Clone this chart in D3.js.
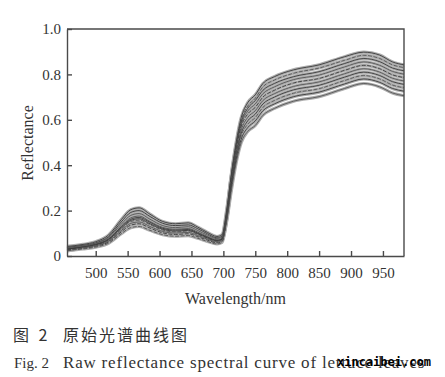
<!DOCTYPE html>
<html>
<head>
<meta charset="utf-8">
<script src="https://cdn.jsdelivr.net/npm/d3@7"></script>
<style>
  body { margin: 0; background: #fff; }
  svg { display: block; }
  .axis path, .axis line { stroke: #4a4a4a; stroke-width: 1.4; }
  .axis text { font-family: "Liberation Serif", "Times New Roman", serif; font-size: 15px; fill: #333; }
</style>
</head>
<body>
<svg width="445" height="377"></svg>
<script>
// wavelengths (nm) sampled along the curves
var wavelengths = [455, 480, 500, 520, 540, 555, 568, 585, 605, 625, 645, 660, 675, 690, 698,
                   705, 712, 720, 728, 738, 750, 762, 780, 810, 850, 890, 920, 945, 965, 983];

// reflectance of individual leaf samples (high NIR to low NIR)
var sampleA = [.038, .047, .058, .085, .150, .192, .200, .174, .144, .134, .137, .120, .098, .080, .088,
               .19, .35, .50, .61, .675, .71, .76, .79, .82, .842, .878, .898, .885, .855, .842];
var sampleB = [.030, .038, .048, .068, .118, .152, .158, .138, .114, .106, .110, .095, .078, .065, .072,
               .18, .34, .49, .60, .66, .695, .745, .775, .805, .828, .862, .884, .870, .842, .830];
var sampleC = [.042, .051, .063, .092, .160, .204, .212, .184, .152, .142, .146, .127, .104, .086, .094,
               .20, .345, .485, .59, .65, .685, .73, .76, .79, .812, .848, .870, .856, .828, .816];
var sampleD = [.034, .042, .053, .076, .131, .168, .176, .152, .126, .118, .121, .105, .086, .071, .078,
               .175, .33, .475, .58, .638, .67, .715, .745, .777, .797, .833, .855, .840, .813, .801];
var sampleE = [.027, .034, .043, .061, .106, .136, .142, .123, .102, .095, .098, .085, .070, .058, .066,
               .17, .325, .468, .57, .625, .655, .70, .73, .762, .782, .818, .840, .825, .798, .786];
var sampleF = [.036, .045, .056, .081, .140, .179, .187, .162, .134, .125, .129, .112, .092, .076, .083,
               .17, .315, .455, .555, .61, .64, .685, .715, .747, .767, .803, .825, .810, .783, .771];
var sampleG = [.031, .039, .049, .071, .123, .157, .164, .142, .118, .110, .113, .098, .080, .067, .074,
               .165, .31, .445, .54, .595, .625, .67, .70, .732, .752, .788, .810, .795, .768, .756];
var sampleH = [.024, .031, .039, .056, .098, .125, .130, .113, .094, .087, .090, .078, .064, .053, .060,
               .155, .30, .435, .53, .58, .61, .655, .685, .717, .737, .773, .795, .780, .753, .741];
var sampleI = [.030, .040, .051, .074, .128, .162, .170, .148, .122, .114, .117, .101, .083, .069, .076,
               .16, .295, .425, .515, .565, .595, .64, .67, .702, .722, .758, .780, .765, .738, .726];
var sampleJ = [.022, .036, .045, .065, .112, .144, .150, .130, .108, .101, .104, .090, .074, .062, .068,
               .15, .28, .41, .50, .548, .575, .62, .65, .682, .702, .738, .760, .745, .718, .706];

var samples = [sampleA, sampleB, sampleC, sampleD, sampleE, sampleF, sampleG, sampleH, sampleI, sampleJ];

var xTicks = [500, 550, 600, 650, 700, 750, 800, 850, 900, 950];
var yTicks = [0, 0.2, 0.4, 0.6, 0.8, 1.0];

var svg = d3.select('svg');

var plotL = 67, plotR = 404, plotT = 29, plotB = 256;

var ScaleX = d3.scaleLinear().domain([455, 983]).range([plotL, plotR]);
var ScaleY = d3.scaleLinear().domain([0, 1]).range([plotB, plotT]);

var line = d3.line()
    .x(function(d, i){ return ScaleX(wavelengths[i]); })
    .y(function(d){ return ScaleY(d); })
    .curve(d3.curveMonotoneX);

var plot = svg.append('g');

// light halo of each curve first, then the dark core lines
plot.selectAll('.halo')
    .data(samples)
    .enter()
    .append('path')
    .attr('class', 'halo')
    .attr('d', line)
    .attr('fill', 'none')
    .attr('stroke', '#adadad')
    .attr('stroke-width', 3.2);

plot.selectAll('.core')
    .data(samples)
    .enter()
    .append('path')
    .attr('class', 'core')
    .attr('d', line)
    .attr('fill', 'none')
    .attr('stroke', function(d, i){ return i % 2 ? '#555' : '#3a3a3a'; })
    .attr('stroke-width', 0.9)
    .attr('stroke-dasharray', function(d, i){ return i % 3 == 1 ? '4,1.5' : null; });

// frame on top and right
svg.append('path')
    .attr('d', 'M' + plotL + ',' + plotT + 'H' + plotR + 'V' + plotB)
    .attr('fill', 'none')
    .attr('stroke', '#4a4a4a')
    .attr('stroke-width', 1.4);

svg.append('g')
    .attr('class', 'axis')
    .attr('transform', 'translate(0,' + plotB + ')')
    .call(d3.axisBottom(ScaleX).tickValues(xTicks).tickSizeInner(-5).tickSizeOuter(0).tickPadding(11));

svg.append('g')
    .attr('class', 'axis')
    .attr('transform', 'translate(' + plotL + ',0)')
    .call(d3.axisLeft(ScaleY).tickValues(yTicks).tickSizeInner(-5).tickSizeOuter(0).tickPadding(6)
        .tickFormat(function(d){ return d == 0 ? '0' : d.toFixed(1); }));

svg.append('text')
    .attr('x', (plotL + plotR) / 2)
    .attr('y', 304)
    .attr('text-anchor', 'middle')
    .style('font-family', '"Liberation Serif", serif')
    .style('font-size', '16px')
    .style('fill', '#333')
    .text('Wavelength/nm');

svg.append('text')
    .attr('transform', 'translate(33,143) rotate(-90)')
    .attr('text-anchor', 'middle')
    .style('font-family', '"Liberation Serif", serif')
    .style('font-size', '16px')
    .style('fill', '#333')
    .text('Reflectance');

// caption
svg.append('text')
    .attr('x', 13)
    .attr('y', 341)
    .style('font-family', '"Noto Sans CJK SC", sans-serif')
    .style('font-size', '16px')
    .style('letter-spacing', '3px')
    .style('fill', '#333')
    .text('图 2');

svg.append('text')
    .attr('x', 63)
    .attr('y', 341)
    .style('font-family', '"Noto Sans CJK SC", sans-serif')
    .style('font-size', '16px')
    .style('letter-spacing', '2px')
    .style('fill', '#333')
    .text('原始光谱曲线图');

svg.append('text')
    .attr('x', 14)
    .attr('y', 368)
    .style('font-family', '"Liberation Serif", serif')
    .style('font-size', '15px')
    .style('fill', '#333')
    .text('Fig. 2');

svg.append('text')
    .attr('x', 63)
    .attr('y', 368)
    .style('font-family', '"Liberation Serif", serif')
    .style('font-size', '17px')
    .style('letter-spacing', '0.8px')
    .style('fill', '#333')
    .text('Raw reflectance spectral curve of lettuce leaves');

svg.append('text')
    .attr('x', 337)
    .attr('y', 366)
    .style('font-family', '"DejaVu Sans Mono", monospace')
    .style('font-weight', 'bold')
    .style('font-size', '12px')
    .style('fill', '#000')
    .text('xincaibei.com');
</script>
</body>
</html>
